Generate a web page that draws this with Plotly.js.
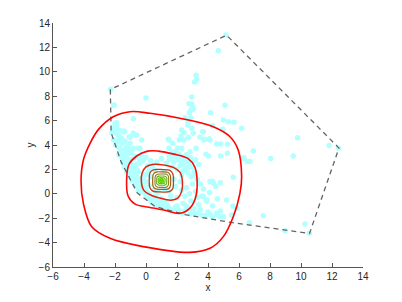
<!DOCTYPE html>
<html>
<head>
<meta charset="utf-8">
<script src="https://cdn.plot.ly/plotly-3.0.1.min.js"></script>
<style>
  html, body { margin: 0; padding: 0; background: #fff; }
  #myDiv { width: 402px; height: 302px; }
</style>
</head>
<body>
<div id="myDiv"></div>
<script>
// sample points
var ptsX = [
  -2.0, -2.17, -1.89, -1.57, -1.46, -1.85, -1.25, -1.46, -1.08, -0.82, -0.65, -1.03, -0.82, -0.39,
  -2.06, -1.89, -2.2, -1.94, -1.4, -1.03, -1.79, -2.08, -1.68, -1.96, -1.72, -1.46, -1.14, -0.5,
  -0.28, -1.75, -0.6, -1.42,
  -1.5, -1.4, -1.2, -1.0, -0.9, -0.8, -0.6, -0.5, -1.25, -1.1, -0.9, -0.7, -0.6, -0.4, -0.3, -0.1,
  0.1, 0.3, 0.5, -0.2, -0.3, 0.0, -1.3, -1.55, -0.95, -0.7, -0.45, -1.05, -0.75, -0.55, -0.35,
  -0.15, 0.0, 0.2, -0.5,
  -2.1, -1.9, -1.7, -1.75, -1.55, -1.35, -1.6, -1.3, -1.35, -1.1, -1.15, -0.95, -1.25, -1.0,
  -0.85, -0.75, -0.6, -0.7, -0.5, -0.3, -0.35, -0.15, 0.0, 0.15, 0.35, 0.55, 0.75, 0.95, 1.2,
  1.4, 1.65, 1.9, 2.1, 2.35, 2.6, 2.85, 3.1, 3.35, 3.6, 4.15, -0.1, 0.1, -0.45, 0.3, 0.45,
  0.4, 0.7, 0.9, 1.1, 1.3, 1.5, 1.8, 2.0, 2.2, 2.5, 2.7, 3.0, 3.2, 3.5, 3.8, 4.0, 4.3, 4.6, 4.8,
  4.99, 5.53, 5.85, 4.77, 3.4, 3.9, 4.3, 4.6, 3.6, 4.1, 4.5, 5.2, 5.6, 5.63, 4.8, 4.3, 3.7, 3.3,
  2.9, 2.4, 1.0, 0.6, 3.7, 3.91, 4.56, 4.34, 4.13,
  1.5, 1.8, 2.0, 2.2, 2.4, 2.6, 2.8, 3.0, 2.5, 2.7, 2.9, 3.1, 2.3, 2.0, 1.7, 1.3, 1.0, 0.7, 0.4,
  0.2, 0.0, -0.2, 0.3, 0.6, 2.1, 1.7, 2.6, 3.2, 3.4, 3.3, 3.0, 2.6, 3.5, 3.2, 2.8, 2.3, 2.0, 1.6,
  2.5, 1.9, 2.2, 1.5, 0.5, 0.2, 0.0, 1.8, 1.2, 0.8, 1.2, 2.4, 2.7, 1.9, 2.8,
  2.2, 2.5, 2.9, 2.4, 3.0, 2.7, 3.15, 2.35, 1.9, 1.5,
  1.48, 1.72, 2.26, 2.15, 2.45, 2.73, 3.05, 2.95, 2.69, 2.04, 2.3, 1.87, 2.84, 3.23, 3.7, 4.13,
  3.76, 4.56, 4.82, 5.25, 4.99, 5.31, 5.68, 6.17, 4.95, 5.1, 4.17, 2.95, 2.8, 2.9, 2.52, 2.73,
  1.48, 1.66, 2.19, 3.23, 3.27, 3.14, 0.0, 2.95, 2.77, 3.01, 2.9, 3.05, -0.82, 4.3, 3.66, 3.74,
  1.44, 2.3, 2.45, 3.48, 4.09, 3.87, 4.02, 4.82, 5.25, 6.32, 6.92, 8.04, 9.5, 9.78, 11.81, 12.41,
  4.67, 5.16, -2.28, -2.06, 6.55, 6.7, 6.28,
  6.67, 7.57, 8.97, 10.26, 10.54
];
var ptsY = [
  5.78, 5.04, 4.9, 4.55, 5.09, 4.27, 3.86, 3.32, 4.68, 4.96, 4.82, 4.14, 3.73, 3.73,
  7.25, 5.83, 5.01, 5.15, 5.09, 4.63, 4.82, 4.41, 4.41, 4.0, 3.73, 3.59, 3.32, 3.73,
  4.41, 3.18, 4.8, 5.15,
  2.6, 2.2, 2.9, 2.5, 2.0, 2.9, 2.4, 1.8, 1.8, 1.4, 1.1, 0.7, 1.4, 0.9, 0.4, 0.1,
  -0.2, -0.5, -0.8, 2.7, 3.2, 3.0, 2.5, 3.0, 3.4, 3.1, 2.9, 2.2, 1.7, 1.0, 1.3,
  0.6, 0.3, 0.0, 0.3,
  5.4, 5.5, 5.2, 4.6, 4.1, 4.3, 3.6, 3.5, 3.0, 3.7, 2.7, 2.8, 2.2, 1.7,
  1.4, 2.3, 2.0, 1.2, 0.6, 0.8, 0.15, 0.35, -0.1, -0.35, -0.7, -0.5, -0.95, -0.65, -1.15,
  -0.95, -1.35, -1.1, -1.3, -1.6, -1.0, -1.65, -1.25, -1.6, -1.75, -1.7, 1.5, 2.3, 2.5, 2.7, 2.0,
  -0.3, -0.6, -0.9, -1.0, -0.7, -1.2, -1.3, -1.0, -1.5, -1.4, -1.2, -1.5, -1.7, -1.3, -1.8, -1.5, -1.9, -1.7, -1.4,
  -1.88, -1.74, -1.19, -1.88, -0.9, -0.6, -1.0, -0.4, -0.2, 0.1, 0.6, -0.5, -1.0, 1.35, 0.9, 1.0, 0.4, -0.3,
  -0.6, -0.8, -0.4, -0.2, -0.23, -0.5, -1.6, 0.86, 1.0,
  2.8, 2.6, 3.0, 2.7, 2.4, 2.8, 2.5, 2.2, 2.0, 1.7, 1.4, 1.8, 1.5, 2.0, 2.2, 2.5, 2.9, 2.6, 2.3,
  1.9, 1.6, 1.2, 1.4, 1.9, 3.3, 3.4, 3.2, 2.8, 2.4, 1.2, 0.8, 0.5, 0.8, 0.2, 0.0, 0.3, -0.3, -0.2,
  -0.2, 0.6, 1.0, 0.2, 0.3, 0.7, 1.0, 1.2, 1.8, 0.1, 0.4, 2.9, 2.2, 2.9, 3.0,
  2.3, 2.6, 2.9, 3.0, 2.6, 2.1, 1.5, 1.8, 2.8, 3.1,
  4.41, 4.14, 4.74, 4.41, 4.41, 4.63, 4.96, 5.37, 5.64, 3.75, 3.73, 3.45, 3.45, 3.73, 5.09, 4.41,
  4.47, 4.08, 4.08, 4.06, 6.05, 5.91, 5.86, 5.37, 5.29, 7.25, 6.65, 7.36, 6.65, 6.24, 6.24, 5.94,
  3.73, 3.1, 3.1, 9.71, 9.38, 9.16, 7.85, 7.93, 7.39, 7.14, 6.87, 6.93, 6.16, 5.58, 5.09, 4.41,
  4.47, 5.23, 5.01, 4.63, 4.51, 3.24, 3.1, 3.1, 3.32, 2.96, 3.51, 2.9, 3.1, 4.6, 3.95, 3.73,
  11.73, 13.02, 8.56, 7.25, 2.65, 2.65, 2.9,
  -2.37, -1.8, -3.02, -2.48, -3.24
];

// convex hull of the sample
var hullX = [-2.3, -2.25, -1.6, -0.55, 0.6, 2.5, 5.5, 10.55, 12.45, 5.2, -2.3];
var hullY = [8.55, 5.0, 2.6, 0.05, -1.05, -1.7, -2.35, -3.25, 3.75, 13.0, 8.55];

// density contours, outermost first
var c1x = [-4.19, -4.04, -3.61, -3.05, -2.11, -1.03, 0.26, 2.19, 4.34, 5.42, 5.95, 6.17, 6.06, 5.63, 4.99, 4.13, 2.84, -0.17, -2.32, -3.5, -4.04, -4.19];
var c1y = [1.0, 2.77, 4.14, 5.3, 6.32, 6.73, 6.6, 6.19, 5.5, 4.68, 3.59, 1.4, 0.04, -1.88, -3.51, -4.47, -4.8, -4.33, -3.65, -2.7, -0.78, 1.0];
var c2x = [-1.25, -1.1, -0.6, 0.1, 0.8, 1.8, 2.7, 3.15, 3.3, 3.2, 2.85, 2.2, 1.2, 0.2, -0.7, -1.15, -1.25];
var c2y = [1.2, 2.4, 3.1, 3.5, 3.5, 3.25, 2.9, 2.2, 1.0, -0.3, -1.15, -1.6, -1.35, -1.1, -0.85, -0.2, 1.2];
var c3x = [-0.3, -0.25, 0.0, 0.5, 1.2, 1.8, 2.2, 2.35, 2.3, 2.05, 1.6, 0.9, 0.3, -0.15, -0.3];
var c3y = [1.0, 1.7, 2.2, 2.42, 2.35, 2.15, 1.75, 1.0, 0.2, -0.35, -0.52, -0.35, -0.1, 0.3, 1.0];
var c4x = [0.21, 0.25, 0.45, 1.0, 1.55, 1.74, 1.77, 1.72, 1.5, 0.95, 0.45, 0.25, 0.21];
var c4y = [1.07, 1.7, 1.95, 1.99, 1.92, 1.6, 1.0, 0.4, 0.17, 0.15, 0.22, 0.5, 1.07];
var c5x = [0.43, 0.47, 0.65, 1.0, 1.4, 1.56, 1.59, 1.55, 1.38, 1.0, 0.62, 0.46, 0.43];
var c5y = [1.08, 1.6, 1.78, 1.8, 1.76, 1.55, 1.08, 0.55, 0.38, 0.37, 0.4, 0.6, 1.08];
var c6x = [0.58, 0.61, 0.75, 1.02, 1.32, 1.44, 1.46, 1.43, 1.3, 1.0, 0.72, 0.6, 0.58];
var c6y = [1.08, 1.47, 1.61, 1.62, 1.6, 1.45, 1.07, 0.68, 0.54, 0.53, 0.55, 0.7, 1.08];
var c7x = [0.69, 0.71, 0.82, 1.02, 1.23, 1.33, 1.34, 1.32, 1.22, 1.0, 0.8, 0.7, 0.69];
var c7y = [1.08, 1.36, 1.45, 1.46, 1.44, 1.34, 1.07, 0.8, 0.71, 0.7, 0.72, 0.82, 1.08];
var c8x = [0.79, 0.81, 0.9, 1.02, 1.16, 1.22, 1.23, 1.21, 1.14, 1.0, 0.86, 0.8, 0.79];
var c8y = [1.08, 1.27, 1.32, 1.32, 1.31, 1.25, 1.07, 0.89, 0.84, 0.83, 0.85, 0.91, 1.08];
var c9x = [0.87, 0.89, 1.0, 1.12, 1.15, 1.13, 1.01, 0.9, 0.87];
var c9y = [1.07, 1.2, 1.24, 1.21, 1.07, 0.94, 0.9, 0.93, 1.07];

var contourX = [c1x, c2x, c3x, c4x, c5x, c6x, c7x, c8x, c9x];
var contourY = [c1y, c2y, c3y, c4y, c5y, c6y, c7y, c8y, c9y];
var contourColors = ['rgb(255,0,0)', 'rgb(250,10,10)', 'rgb(225,35,15)', 'rgb(195,60,20)',
  'rgb(165,95,25)', 'rgb(135,130,25)', 'rgb(110,165,20)', 'rgb(85,195,10)', 'rgb(100,215,0)'];
var contourWidths = [1.6, 1.6, 1.5, 1.3, 1.2, 1.1, 1.1, 1.1, 1.1];

var points = {
  x: ptsX,
  y: ptsY,
  mode: 'markers',
  type: 'scatter',
  hoverinfo: 'skip',
  marker: { size: 5.5, color: 'rgb(178,255,255)', line: { width: 0 } }
};

var hull = {
  x: hullX,
  y: hullY,
  mode: 'lines',
  type: 'scatter',
  line: { color: 'rgb(100,100,100)', width: 1.3, dash: '5px,4px' }
};

var data = [points, hull];
for (var i = 0; i < contourX.length; i++) {
  var tr = {
    x: contourX[i],
    y: contourY[i],
    mode: 'lines',
    type: 'scatter',
    line: { color: contourColors[i], width: contourWidths[i], shape: 'spline', smoothing: 1 }
  };
  // innermost level is a small filled blob
  if (i === contourX.length - 1) {
    tr.fill = 'toself';
    tr.fillcolor = contourColors[i];
  }
  data.push(tr);
}

var axisStyle = {
  range: [-6, 14],
  dtick: 2,
  tick0: -6,
  showline: true,
  linecolor: '#555',
  linewidth: 1,
  ticks: 'inside',
  ticklen: 4,
  tickcolor: '#555',
  showgrid: false,
  zeroline: false,
  tickfont: { family: 'Liberation Sans, Arial, sans-serif', size: 10, color: '#262626' }
};

var layout = {
  width: 402,
  height: 302,
  showlegend: false,
  paper_bgcolor: '#fff',
  plot_bgcolor: '#fff',
  margin: { l: 53, r: 39, t: 23, b: 35, pad: 0 },
  xaxis: Object.assign({}, axisStyle, {
    title: { text: 'x', standoff: 2, font: { family: 'Liberation Sans, Arial, sans-serif', size: 10, color: '#262626' } }
  }),
  yaxis: Object.assign({}, axisStyle, {
    title: { text: 'y', standoff: 2, font: { family: 'Liberation Sans, Arial, sans-serif', size: 10, color: '#262626' } }
  })
};

Plotly.newPlot('myDiv', data, layout, { staticPlot: true, displayModeBar: false });
</script>
</body>
</html>
